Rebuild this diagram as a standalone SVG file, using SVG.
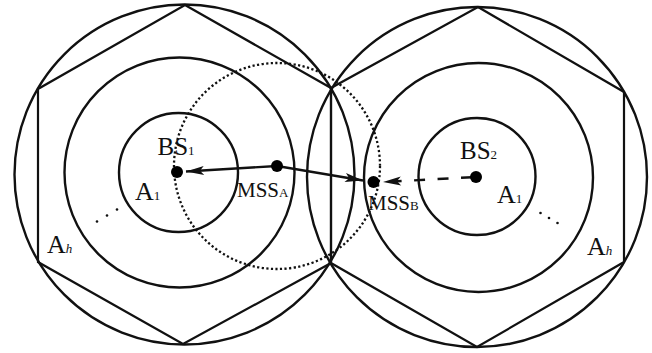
<svg xmlns="http://www.w3.org/2000/svg" width="652" height="353" viewBox="0 0 652 353">
<style>
.c{fill:none;stroke:#111;stroke-width:2.4}
.h{fill:none;stroke:#111;stroke-width:2.2;stroke-linejoin:miter}
.dot{fill:#000}
.sd{fill:#111}
.dotted{fill:none;stroke:#111;stroke-width:2.3;stroke-dasharray:2.2 2.4}
.ar{fill:none;stroke:#111;stroke-width:2.4}
.t{font-family:"Liberation Serif","Times New Roman",serif;fill:#111}
.sub{font-size:13px}
</style>
<defs>
<marker id="ah" viewBox="-19 -5 20 10" refX="0" refY="0" markerWidth="20" markerHeight="10" markerUnits="userSpaceOnUse" orient="auto">
<path d="M0,0 L-18,-4.5 L-14,0 L-18,4.5 z" fill="#111"/>
</marker>
</defs>
<g id="cellA">
<circle class="c" cx="184.5" cy="174.5" r="170"/>
<polygon class="h" points="185,5 331,88 331,263 183,344 38,262 38,89"/>
<circle class="c" cx="179.5" cy="172.5" r="115"/>
<circle class="c" cx="178.5" cy="172.5" r="59.5"/>
</g>
<g id="cellB">
<circle class="c" cx="477" cy="177" r="170"/>
<polygon class="h" points="478,7 624,92 624,262 477,347 331,263 331,88"/>
<circle class="c" cx="478.5" cy="177.5" r="114.5"/>
<circle class="c" cx="477" cy="176.5" r="58.5"/>
</g>
<g id="range">
<circle class="dotted" cx="277" cy="166" r="103"/>
</g>
<g id="connectors">
<line class="ar" x1="277" y1="166" x2="186" y2="171.5" marker-end="url(#ah)"/>
<line class="ar" x1="277" y1="166" x2="363" y2="180.5" marker-end="url(#ah)"/>
<line class="ar" x1="476" y1="177" x2="383" y2="182" style="stroke-dasharray:11 12.5;stroke-dashoffset:19.5" marker-end="url(#ah)"/>
</g>
<g id="BS1">
<circle class="dot" cx="177" cy="172" r="6"/>
<text class="t" x="157.5" y="155" font-size="25">BS<tspan class="sub">1</tspan></text>
</g>
<g id="MSSA">
<circle class="dot" cx="277" cy="166" r="6"/>
<text class="t" x="237" y="197" font-size="21">MSS<tspan class="sub">A</tspan></text>
</g>
<g id="MSSB">
<circle class="dot" cx="373.5" cy="182" r="6"/>
<text class="t" x="368" y="210" font-size="21">MSS<tspan class="sub">B</tspan></text>
</g>
<g id="BS2">
<circle class="dot" cx="476" cy="177" r="6"/>
<text class="t" x="460" y="159" font-size="25">BS<tspan class="sub">2</tspan></text>
</g>
<g id="labelsA">
<text class="t" x="135" y="200" font-size="26">A<tspan class="sub">1</tspan></text>
<text class="t" x="47" y="253" font-size="26">A<tspan class="sub" font-style="italic">h</tspan></text>
<circle class="sd" cx="97" cy="221.5" r="1.3"/>
<circle class="sd" cx="107" cy="215.5" r="1.3"/>
<circle class="sd" cx="117" cy="209.5" r="1.3"/>
</g>
<g id="labelsB">
<text class="t" x="497" y="203" font-size="26">A<tspan class="sub">1</tspan></text>
<text class="t" x="587" y="255" font-size="26">A<tspan class="sub" font-style="italic">h</tspan></text>
<circle class="sd" cx="540.5" cy="213" r="1.3"/>
<circle class="sd" cx="549" cy="218" r="1.3"/>
<circle class="sd" cx="557.5" cy="223" r="1.3"/>
</g>
</svg>
